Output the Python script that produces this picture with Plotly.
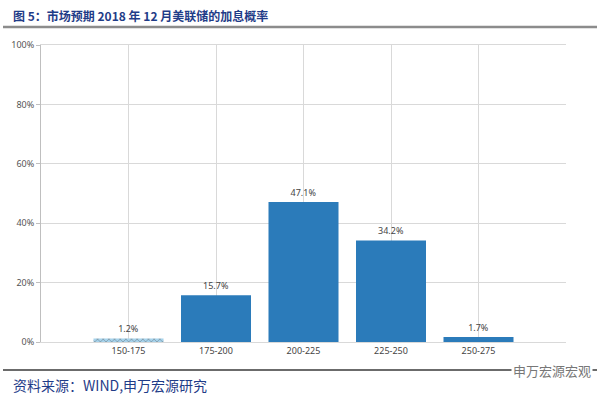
import plotly.graph_objects as go

categories = ["150-175", "175-200", "200-225", "225-250", "250-275"]
probabilities = [1.2, 15.7, 47.1, 34.2, 1.7]
y_ticks = [0, 20, 40, 60, 80, 100]
y_tick_labels = ["0%", "20%", "40%", "60%", "80%", "100%"]

positions = list(range(1, len(categories) + 1))
bar_color = "#2B7BBA"
fgs = ["#2B7BBA"] + [bar_color] * 4
shapes_pat = ["x", "", "", "", ""]
bgs = ["#A6D3EC", bar_color, bar_color, bar_color, bar_color]

fig = go.Figure()
fig.add_trace(go.Bar(
    x=positions, y=probabilities, width=0.8,
    marker=dict(color=bgs, line=dict(width=0),
                pattern=dict(shape=shapes_pat, fgcolor=fgs, size=4, solidity=0.3)),
    text=[f"{v}%" for v in probabilities], textposition="outside",
    textfont=dict(family="Noto Sans, Arial", size=9, color="#444444"),
    cliponaxis=False, hoverinfo="skip",
))

font_cjk = "Noto Sans CJK SC"
H = 297.0
fig.update_layout(
    width=600, height=396,
    margin=dict(l=41, r=34, t=45, b=54),
    paper_bgcolor="white", plot_bgcolor="white",
    showlegend=False, bargap=0.2,
    xaxis=dict(range=[0, 6], tickvals=positions, ticktext=categories,
               showgrid=True, gridcolor="#D9D9D9", gridwidth=1,
               showline=True, linecolor="#D9D9D9", mirror=True,
               ticks="", zeroline=False,
               tickfont=dict(family="Noto Sans, Arial", size=9, color="#444444")),
    yaxis=dict(range=[0, 100], tickvals=y_ticks, ticktext=y_tick_labels,
               showgrid=True, gridcolor="#D9D9D9", gridwidth=1,
               showline=True, linecolor="#BFBFBF",
               ticks="outside", ticklen=4, tickcolor="#BFBFBF",
               zeroline=False,
               tickfont=dict(family="Noto Sans, Arial", size=9, color="#555555")),
    shapes=[
        dict(type="line", xref="paper", yref="paper", x0=-38/525, x1=556/525,
             y0=1.0 + 18/H, y1=1.0 + 18/H, line=dict(color="#8C8C8C", width=2.5)),
        dict(type="line", xref="paper", yref="paper", x0=-38/525, x1=556/525,
             y0=-28/H, y1=-28/H, line=dict(color="#3A3A3A", width=1.5)),
    ],
    annotations=[
        dict(text="<b>图 5：市场预期 2018 年 12 月美联储的加息概率</b>",
             xref="paper", yref="paper", x=-30/525, y=1.0 + 30/H,
             xanchor="left", yanchor="middle", showarrow=False,
             font=dict(family=font_cjk, size=12, color="#1F3C88")),
        dict(text="资料来源：WIND,申万宏源研究",
             xref="paper", yref="paper", x=-30/525, y=-43/H,
             xanchor="left", yanchor="middle", showarrow=False,
             font=dict(family=font_cjk, size=14, color="#1F3C88")),
        dict(text="申万宏源宏观", bgcolor="white",
             xref="paper", yref="paper", x=552/525, y=-28/H,
             xanchor="right", yanchor="middle", showarrow=False,
             font=dict(family=font_cjk, size=13, color="#777777")),
    ],
)

fig.write_html("out.html", config={"displayModeBar": False},
               post_script="document.body.style.margin='0';")
